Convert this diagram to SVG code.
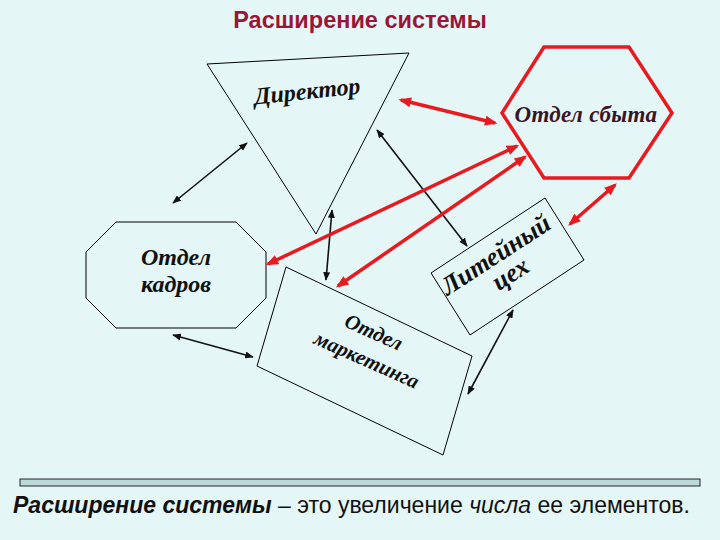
<svg xmlns="http://www.w3.org/2000/svg" width="720" height="540" viewBox="0 0 720 540">
<defs>
<style>
.shape{fill:none;stroke:#000;stroke-width:1}
.lbl{font-family:"Liberation Serif","DejaVu Serif",serif;font-weight:bold;font-style:italic;fill:#111;text-anchor:middle}
.blk{stroke:#111;stroke-width:1.6;fill:none;marker-start:url(#ab);marker-end:url(#ab)}
.red{stroke:#E8191F;stroke-width:3.5;fill:none;marker-start:url(#ar);marker-end:url(#ar)}
</style>
<marker id="ab" viewBox="0 0 10 8" refX="9" refY="4" markerWidth="9" markerHeight="7" markerUnits="userSpaceOnUse" orient="auto-start-reverse"><path d="M0,0 L10,4 L0,8 Z" fill="#111"/></marker>
<marker id="ar" viewBox="0 0 10 8" refX="8" refY="4" markerWidth="13" markerHeight="10" markerUnits="userSpaceOnUse" orient="auto-start-reverse"><path d="M0,0 L10,4 L0,8 Z" fill="#E8191F"/></marker>
</defs>
<rect width="720" height="540" fill="#E5F6F6"/>
<text x="360" y="28" font-family="'Liberation Sans',Arial,sans-serif" font-weight="bold" font-size="23.5" fill="#9A1638" text-anchor="middle">Расширение системы</text>

<g id="director">
<polygon class="shape" points="207,64 409,53 316,234"/>
<text class="lbl" x="308" y="99" font-size="24" transform="rotate(-6 308 99)">Директор</text>
</g>

<g id="sales">
<polygon points="544,47 629,47 672,113 629,178 544,178 502,113" fill="none" stroke="#E8191F" stroke-width="3.5"/>
<text class="lbl" x="586" y="122" font-size="23" style="fill:#3A1426;letter-spacing:0.3px">Отдел сбыта</text>
</g>

<g id="hr">
<polygon class="shape" points="116,222 236,222 266,252 266,298 236,328 116,328 86,298 86,252"/>
<text class="lbl" x="176" y="265" font-size="24">Отдел</text>
<text class="lbl" x="176" y="292" font-size="24">кадров</text>
</g>

<g id="marketing">
<polygon class="shape" points="286,267 472,356 443,455 257,366"/>
<g transform="translate(370,348) rotate(24)">
<text class="lbl" x="-3" y="-9" font-size="21">Отдел</text>
<text class="lbl" x="2" y="19" font-size="21">маркетинга</text>
</g>
</g>

<g id="foundry">
<polygon class="shape" points="545,198 584,260 470,335 431,273"/>
<g transform="translate(503,266) rotate(-33)">
<text class="lbl" x="0" y="-5" font-size="26">Литейный</text>
<text class="lbl" x="2" y="19" font-size="26">цех</text>
</g>
</g>

<g id="connectors">
<line class="blk" x1="173" y1="203" x2="247" y2="143"/>
<line class="blk" x1="173" y1="335" x2="253" y2="357"/>
<line class="blk" x1="332" y1="210" x2="326" y2="280"/>
<line class="blk" x1="377" y1="130" x2="467" y2="246"/>
<line class="blk" x1="513" y1="310" x2="468" y2="394"/>
<line class="red" x1="401" y1="100" x2="495" y2="123"/>
<line class="red" x1="517" y1="146" x2="268" y2="264"/>
<line class="red" x1="525" y1="157" x2="338" y2="286"/>
<line class="red" x1="615" y1="185" x2="570" y2="224"/>
</g>

<rect x="20" y="479" width="680" height="7" fill="#BCD9D9" stroke="#222" stroke-width="1"/>
<text x="13" y="513" font-family="'Liberation Sans',Arial,sans-serif" font-size="23" fill="#111"><tspan font-weight="bold" font-style="italic">Расширение системы</tspan> – это увеличение <tspan font-style="italic">числа</tspan> ее элементов.</text>
</svg>
